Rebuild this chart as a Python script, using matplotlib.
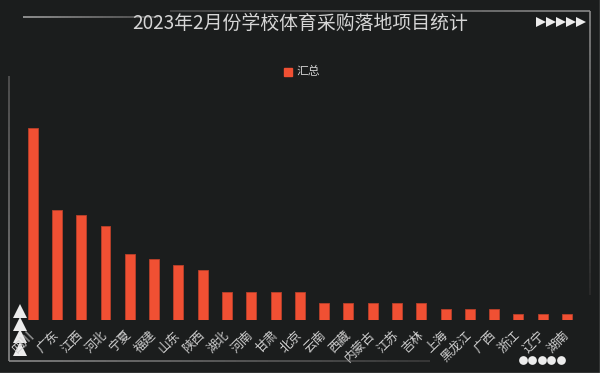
import numpy as np
import matplotlib
matplotlib.use("Agg")
import matplotlib.pyplot as plt
from matplotlib.collections import LineCollection

plt.rcParams['font.family'] = ['Noto Sans CJK SC', 'DejaVu Sans']

# --------------------------------------------------
# Data
# --------------------------------------------------

provinces = [
    "四川", "广东", "江西", "河北", "宁夏", "福建", "山东", "陕西",
    "湖北", "河南", "甘肃", "北京", "云南", "西藏", "内蒙古", "江苏",
    "吉林", "上海", "黑龙江", "广西", "浙江", "辽宁", "湖南"
]

totals = [35, 20, 19, 17, 12, 11, 10, 9, 5, 5, 5, 5, 3, 3, 3, 3, 3,
          2, 2, 2, 1, 1, 1]

title = "2023年2月份学校体育采购落地项目统计"
legend_label = "汇总"

# --------------------------------------------------
# Style
# --------------------------------------------------

BG = "#1b1d1d"
BAR = "#f05033"
TEXT = "#cfcfcf"

W, H = 600, 373

fig = plt.figure(figsize=(W / 100, H / 100), dpi=100)
fig.patch.set_facecolor(BG)

# overlay in pixel coordinates for the frame decorations
deco = fig.add_axes([0, 0, 1, 1])
deco.set_xlim(0, W)
deco.set_ylim(H, 0)
deco.axis("off")
deco.patch.set_alpha(0)
deco.set_zorder(0)


def fade_line(x0, y0, x1, y1, c0, c1, lw=1.2):
    t = np.linspace(0, 1, 40)
    xs = x0 + (x1 - x0) * t
    ys = y0 + (y1 - y0) * t
    segs = [[(xs[i], ys[i]), (xs[i + 1], ys[i + 1])] for i in range(len(t) - 1)]
    c0 = np.array(matplotlib.colors.to_rgb(c0))
    c1 = np.array(matplotlib.colors.to_rgb(c1))
    cols = [c0 + (c1 - c0) * v for v in t[:-1]]
    deco.add_collection(LineCollection(segs, colors=cols, linewidths=lw))


# frame lines
fade_line(23, 17, 158, 17, "#a0a0a0", "#505050")
fade_line(170, 11, 590, 11, "#4a4a4a", "#8a8a8a")
fade_line(590, 11, 590, 295, "#8a8a8a", "#2a2a2a")
fade_line(9, 76, 9, 361, "#555555", "#8a8a8a")
fade_line(9, 361, 430, 361, "#8a8a8a", "#3a3a3a")

# outer edge of the screenshot
deco.plot([599.5, 599.5], [0, H], color="#9a9a9a", lw=1)
deco.plot([0, W], [372.5, 372.5], color="#9a9a9a", lw=1)

# triangle / dot ornaments
deco.plot([541, 551, 561, 571, 581], [22] * 5, ls="none", marker=">",
          ms=7.5, color="#ececec", mew=0)
deco.plot([19.5] * 4, [311, 323.5, 336, 348.5], ls="none", marker="^",
          ms=10, color="#ececec", mew=0)
deco.plot([522.5, 532, 541.5, 551, 560.5], [360] * 5, ls="none",
          marker="o", ms=6.3, color="#ececec", mew=0)

# --------------------------------------------------
# Bars
# --------------------------------------------------

ymax = 40
unit_px = 5.48
left_px, right_px = 20.5, 579.2
base_px = 319.5
top_px = base_px - ymax * unit_px

ax = fig.add_axes([
    left_px / W,
    (H - base_px) / H,
    (right_px - left_px) / W,
    (base_px - top_px) / H
])
ax.set_zorder(1)
ax.patch.set_alpha(0)

x = np.arange(len(provinces))

ax.bar(
    x,
    totals,
    width=0.41,
    color=BAR,
    edgecolor="#b9402a",
    linewidth=0.6
)

ax.set_xlim(-0.5, len(provinces) - 0.5)
ax.set_ylim(0, ymax)
ax.set_yticks([])

ax.set_xticks(x)
ax.set_xticklabels(
    provinces,
    rotation=45,
    ha="right",
    va="center",
    rotation_mode="anchor",
    color=TEXT,
    fontsize=9
)
ax.tick_params(axis="x", length=0, pad=10)

for side in ["top", "right", "left", "bottom"]:
    ax.spines[side].set_visible(False)

# --------------------------------------------------
# Title + legend
# --------------------------------------------------

fig.text(0.5, 1 - 23 / H, title, ha="center", va="center",
         color="#d6d6d6", fontsize=13.6)

deco.add_patch(plt.Rectangle((284, 68), 8, 8, color=BAR))
deco.text(296, 72, legend_label, ha="left", va="center",
          color=TEXT, fontsize=8.5)

plt.savefig("out.png", dpi=100, facecolor=BG)
plt.close()
